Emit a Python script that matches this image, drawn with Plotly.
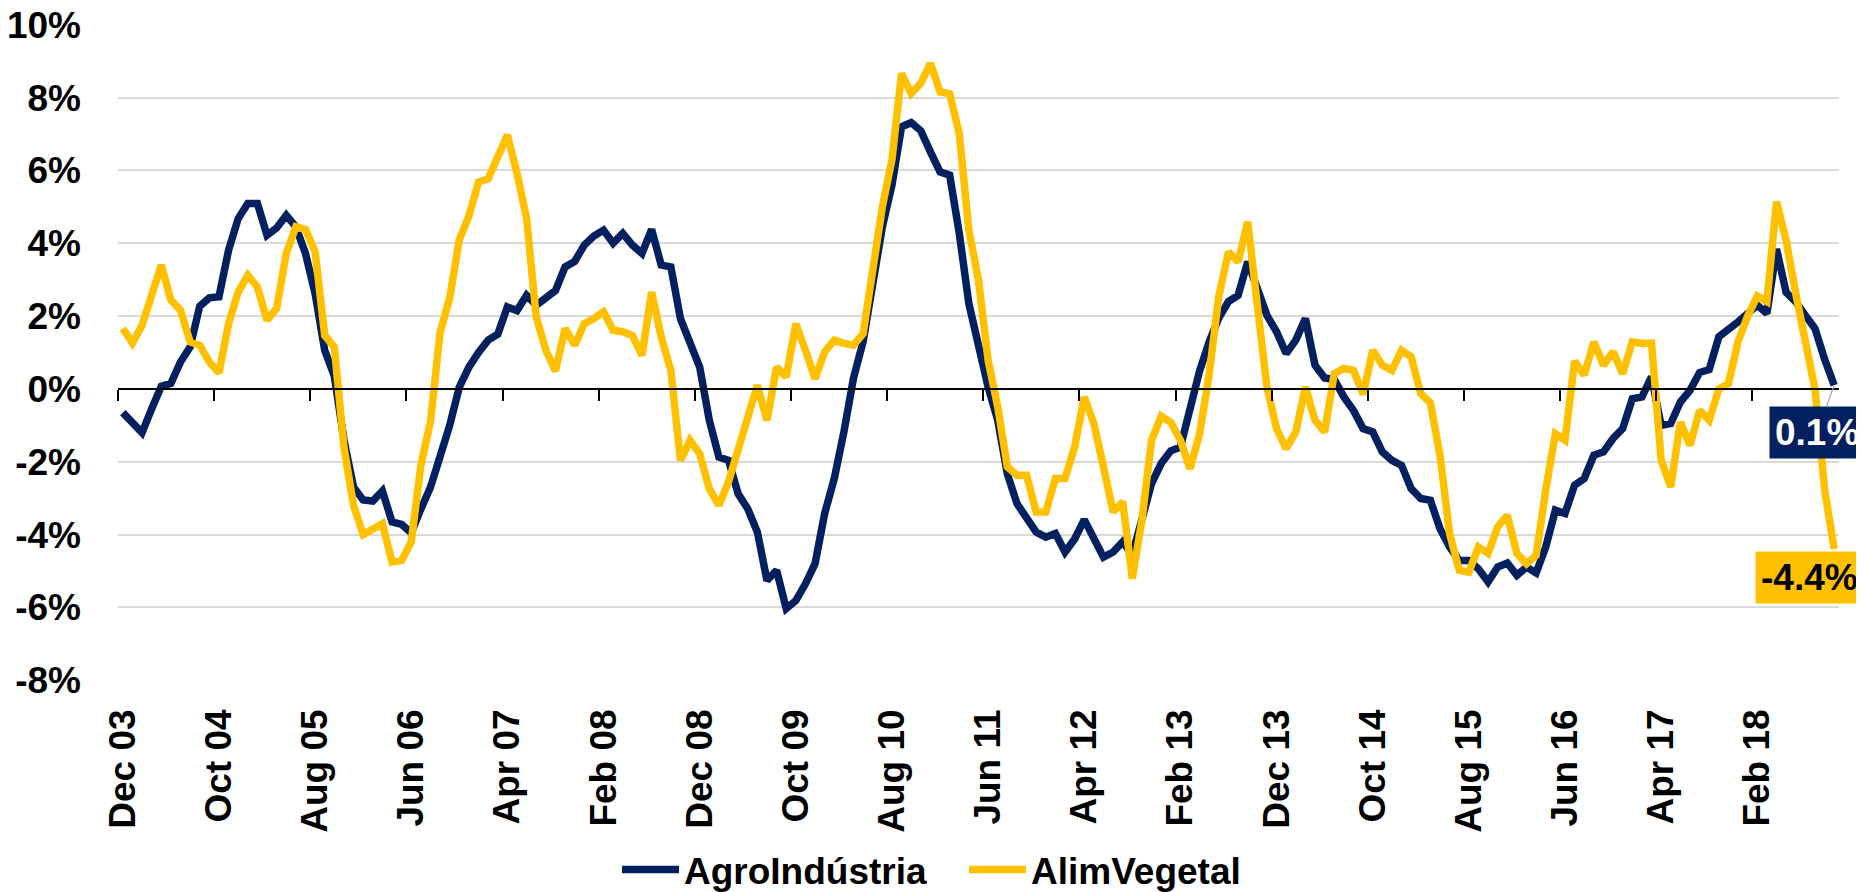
import plotly.graph_objects as go

# Monthly series, Dec 03 .. Oct 18 (values in %)
agro = [
    -0.65, -0.95, -1.2, -0.55, 0.07, 0.15, 0.74, 1.15, 2.27, 2.5,
    2.53, 3.81, 4.68, 5.09, 5.09, 4.22, 4.42, 4.77, 4.45, 3.72,
    2.62, 1.06, 0.35, -1.4, -2.7, -3.05, -3.08, -2.8, -3.65, -3.72,
    -3.95, -3.3, -2.7, -1.85, -1.0, 0.05, 0.6, 1.0, 1.34, 1.5,
    2.25, 2.15, 2.57, 2.3, 2.5, 2.7, 3.35, 3.5, 3.95, 4.2,
    4.36, 4.0, 4.27, 3.95, 3.72, 4.38, 3.4, 3.35, 1.93, 1.29,
    0.6, -0.86, -1.87, -1.96, -2.88, -3.29, -3.93, -5.26, -4.98, -6.03,
    -5.81, -5.35, -4.8, -3.42, -2.46, -1.18, 0.3, 1.3, 3.0, 4.45,
    5.6, 7.2, 7.31, 7.09, 6.51, 5.96, 5.87, 4.27, 2.34, 1.15,
    0.05, -0.86, -2.33, -3.15, -3.52, -3.93, -4.07, -3.97, -4.48, -4.12,
    -3.59, -4.16, -4.62, -4.48, -4.2, -4.55, -3.5, -2.6, -2.05, -1.7,
    -1.6, -0.5, 0.5, 1.3, 1.95, 2.4, 2.57, 3.49, 2.8, 2.02,
    1.57, 0.97, 1.34, 1.93, 0.65, 0.3, 0.26, -0.22, -0.59, -1.09,
    -1.18, -1.73, -1.96, -2.1, -2.74, -3.01, -3.06, -3.84, -4.34, -4.71,
    -4.71, -4.94, -5.3, -4.89, -4.78, -5.12, -4.89, -5.05, -4.34, -3.33,
    -3.42, -2.64, -2.46, -1.82, -1.73, -1.36, -1.09, -0.27, -0.22, 0.33,
    -1.0, -0.95, -0.36, -0.04, 0.45, 0.53, 1.43, 1.61, 1.84, 2.07,
    2.3, 2.07, 3.84, 2.65, 2.39, 2.02, 1.66, 0.82, 0.1,
]

alim = [
    1.66, 1.26, 1.75, 2.53, 3.4, 2.44, 2.16, 1.29, 1.2, 0.74,
    0.44, 1.79, 2.66, 3.12, 2.8, 1.89, 2.21, 3.72, 4.45, 4.38,
    3.77, 1.47, 1.15, -1.6, -3.2, -4.0, -3.84, -3.7, -4.75, -4.71,
    -4.2, -2.1, -0.9, 1.55, 2.5, 4.1, 4.75, 5.68, 5.77, 6.37,
    6.97, 5.92, 4.68, 1.98, 1.06, 0.49, 1.66, 1.2, 1.79, 1.93,
    2.12, 1.61, 1.57, 1.47, 0.92, 2.66, 1.43, 0.51, -1.96, -1.41,
    -1.78, -2.74, -3.2, -2.55, -1.64, -0.72, 0.1, -0.86, 0.6, 0.33,
    1.79, 1.06, 0.28, 1.02, 1.34, 1.25, 1.2, 1.52, 3.2, 5.0,
    6.3, 8.66, 8.11, 8.39, 8.94, 8.16, 8.1, 7.02, 4.36, 2.99,
    0.79, -0.49, -2.14, -2.37, -2.37, -3.38, -3.38, -2.46, -2.46, -1.59,
    -0.22, -0.95, -2.14, -3.38, -3.1, -5.21, -3.6, -1.41, -0.75, -0.92,
    -1.41, -2.19, -1.23, 0.42, 2.55, 3.76, 3.49, 4.59, 2.3, 0.05,
    -1.09, -1.64, -1.18, 0.05, -0.86, -1.18, 0.42, 0.56, 0.51, -0.15,
    1.06, 0.65, 0.51, 1.06, 0.88, -0.13, -0.38, -1.82, -3.97, -4.98,
    -5.03, -4.34, -4.52, -3.79, -3.47, -4.52, -4.8, -4.57, -2.78, -1.23,
    -1.41, 0.76, 0.38, 1.29, 0.65, 1.02, 0.42, 1.29, 1.25, 1.26,
    -1.96, -2.69, -0.91, -1.55, -0.59, -0.86, 0.0, 0.15, 1.3, 2.0,
    2.55, 2.4, 5.14, 4.08, 2.62, 1.38, 0.0, -2.75, -4.4,
]

tick_labels = ["Dec 03", "Oct 04", "Aug 05", "Jun 06", "Apr 07", "Feb 08",
               "Dec 08", "Oct 09", "Aug 10", "Jun 11", "Apr 12", "Feb 13",
               "Dec 13", "Oct 14", "Aug 15", "Jun 16", "Apr 17", "Feb 18"]
label_step = 10
y_ticks = [-8, -6, -4, -2, 0, 2, 4, 6, 8, 10]

names = ["AgroIndústria", "AlimVegetal"]
NAVY = "#002060"
GOLD = "#FFC000"
FONT = "Arial, Liberation Sans, sans-serif"
FS = 37

# the page body adds an 8px offset, so the figure is 8px smaller than the window
W, H = 1856, 884

n = len(agro)
x = list(range(n))
tickvals = [i * label_step for i in range(len(tick_labels))]
boundaries = [v - 0.5 for v in tickvals]
xr = [-0.5, n - 0.5]
pad = 0.02  # tiny headroom so the outer gridlines stay visible
yr = [y_ticks[0] - pad, y_ticks[-1] + pad]

fig = go.Figure()
fig.add_trace(go.Scatter(x=x, y=agro, mode="lines", name=names[0],
                         line=dict(color=NAVY, width=7.5)))
fig.add_trace(go.Scatter(x=x, y=alim, mode="lines", name=names[1],
                         line=dict(color=GOLD, width=7.5)))
# helper (empty) trace so the zero-crossing axis with tick marks is drawn
fig.add_trace(go.Scatter(x=[], y=[], xaxis="x2", showlegend=False, hoverinfo="skip"))

bold = dict(family=FONT, size=FS, color="black", weight="bold")

fig.update_layout(
    width=W, height=H,
    margin=dict(l=110, r=25, t=16, b=211, autoexpand=False),
    paper_bgcolor="white", plot_bgcolor="white",
    font=bold,
    showlegend=True,
    legend=dict(orientation="h", xref="container", yref="container",
                x=609 / W, xanchor="left", y=22 / H, yanchor="middle",
                font=bold, bgcolor="rgba(0,0,0,0)", itemwidth=57, entrywidth=275),
    xaxis=dict(range=xr, tickmode="array", tickvals=tickvals, ticktext=tick_labels,
               tickangle=-90, showgrid=False, zeroline=False, showline=False,
               ticks="", ticklabelstandoff=20, automargin=False, tickfont=bold,
               ticklabeloverflow="allow"),
    xaxis2=dict(overlaying="x", anchor="free", position=(0 - yr[0]) / (yr[1] - yr[0]),
                range=xr, tickmode="array", tickvals=boundaries,
                ticks="outside", ticklen=11, tickwidth=1.5, tickcolor="black",
                showline=True, linecolor="black", linewidth=1.5,
                showticklabels=False, showgrid=False, zeroline=False, side="bottom"),
    yaxis=dict(range=yr, tickmode="array", tickvals=y_ticks,
               ticktext=[f"{v}%" for v in y_ticks],
               showgrid=True, gridcolor="#D9D9D9", gridwidth=1.5,
               zeroline=False, showline=False, ticks="", ticklabelstandoff=36,
               automargin=False, tickfont=bold, ticklabeloverflow="allow"),
)

fig.add_annotation(x=n - 1, y=agro[-1], xref="x", yref="y",
                   text=f"{agro[-1]:.1f}%", showarrow=True, arrowhead=0,
                   arrowwidth=1.2, arrowcolor="#A6A6A6", standoff=0,
                   ax=-17, ay=47, bgcolor=NAVY, borderpad=5,
                   font=dict(family=FONT, size=FS, color="white", weight="bold"))
fig.add_annotation(x=n - 1, y=alim[-1], xref="x", yref="y",
                   text=f"{alim[-1]:.1f}%", showarrow=False,
                   xshift=-25, yshift=-28, bgcolor=GOLD, borderpad=5,
                   font=dict(family=FONT, size=FS, color="black", weight="bold"))

fig.write_html("out.html")
